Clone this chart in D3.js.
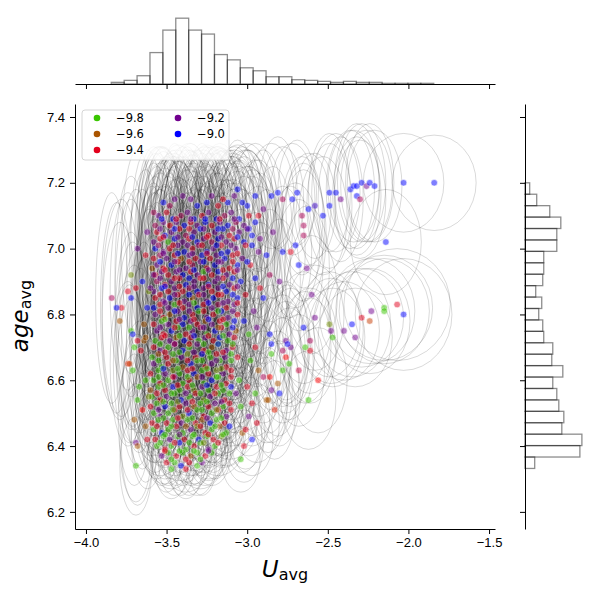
<!DOCTYPE html>
<html>
<head>
<meta charset="utf-8">
<script src="https://cdn.jsdelivr.net/npm/d3@7"></script>
<style>
  body { margin: 0; background: #fff; }
  svg { font-family: 'DejaVu Sans', sans-serif; }
</style>
</head>
<body>
<div id="chart"></div>
<script>
'use strict';

// hue ticks shown in the legend, axis ticks
var legendTicks = [ -9.8, -9.6, -9.4, -9.2, -9.0 ];
var xTicks = [ -4.0, -3.5, -3.0, -2.5, -2.0, -1.5 ];
var yTicks = [ 6.2, 6.4, 6.6, 6.8, 7.0, 7.2, 7.4 ];

// marginal histograms (25 bins each), counts per bin
var xBinRange = [ -3.843, -1.843 ];
var xCounts = [ 5, 11, 25, 95, 163, 199, 163, 151, 89, 73, 49, 40, 22, 22, 13, 11, 8, 5, 8, 5, 5, 2, 2, 2, 2 ];
var yBinRange = [ 6.332, 7.2 ];
var yCounts = [ 29, 164, 170, 110, 116, 101, 95, 83, 113, 80, 83, 56, 53, 41, 50, 32, 53, 56, 56, 95, 95, 107, 74, 35, 14 ];

// stars: [ U_avg, age_avg, hue, U error, age error ]
var upperClump = [
  [-3.55,7.10,-9.2,.09,.19],[-3.50,7.11,-9.4,.10,.17],[-3.46,7.09,-9.0,.08,.21],[-3.41,7.10,-9.3,.11,.18],[-3.37,7.11,-9.2,.09,.20],[-3.33,7.09,-9.0,.12,.17],[-3.28,7.10,-9.4,.10,.22],[-3.24,7.11,-9.2,.09,.18],[-3.19,7.09,-9.0,.11,.20],[-3.14,7.10,-9.3,.12,.17],[-3.10,7.11,-9.2,.10,.19],[-3.05,7.09,-9.0,.13,.18],[-2.99,7.10,-9.4,.12,.20],
  [-3.57,7.07,-9.3,.10,.22],[-3.52,7.08,-9.2,.09,.19],[-3.48,7.07,-9.4,.11,.20],[-3.44,7.08,-9.2,.08,.18],[-3.39,7.07,-9.0,.10,.21],[-3.35,7.08,-9.4,.09,.19],[-3.31,7.07,-9.2,.12,.20],[-3.26,7.08,-9.0,.10,.18],[-3.22,7.07,-9.4,.09,.22],[-3.17,7.08,-9.2,.11,.19],[-3.12,7.07,-9.0,.13,.20],[-3.07,7.08,-9.3,.12,.18],[-3.02,7.07,-9.2,.14,.21],[-2.95,7.08,-9.0,.13,.19],
  [-3.56,7.05,-9.4,.09,.20],[-3.51,7.04,-9.0,.10,.23],[-3.47,7.05,-9.2,.08,.19],[-3.42,7.06,-9.4,.11,.21],[-3.38,7.04,-9.3,.10,.20],[-3.33,7.05,-9.2,.09,.22],[-3.29,7.06,-9.0,.12,.19],[-3.24,7.04,-9.4,.10,.21],[-3.20,7.05,-9.2,.11,.20],[-3.15,7.06,-9.0,.09,.18],[-3.11,7.04,-9.4,.12,.22],[-3.05,7.05,-9.2,.13,.20],[-2.99,7.06,-9.0,.14,.19],
  [-3.58,7.02,-9.2,.10,.24],[-3.54,7.03,-9.4,.09,.21],[-3.49,7.02,-9.8,.10,.20],[-3.45,7.03,-9.0,.11,.22],[-3.40,7.02,-9.2,.09,.19],[-3.36,7.03,-9.4,.10,.23],[-3.31,7.02,-9.0,.12,.20],[-3.27,7.03,-9.2,.09,.21],[-3.22,7.02,-9.3,.11,.22],[-3.18,7.03,-9.0,.10,.20],[-3.13,7.02,-9.2,.12,.19],[-3.08,7.03,-9.4,.13,.22],[-3.02,7.02,-9.0,.15,.20],
  [-3.57,7.00,-9.0,.09,.22],[-3.52,6.99,-9.2,.10,.20],[-3.48,7.00,-9.4,.08,.23],[-3.43,7.01,-9.2,.10,.21],[-3.39,6.99,-9.0,.11,.20],[-3.34,7.00,-9.4,.09,.22],[-3.30,7.01,-9.3,.12,.19],[-3.25,6.99,-9.0,.10,.21],[-3.21,7.00,-9.2,.09,.23],[-3.16,7.01,-9.4,.11,.20],[-3.12,6.99,-9.0,.12,.22],[-3.07,7.00,-9.2,.14,.20],[-2.97,7.01,-9.0,.15,.21],
  [-3.58,6.97,-9.4,.10,.23],[-3.54,6.98,-9.3,.09,.20],[-3.50,6.97,-9.2,.10,.22],[-3.45,6.98,-9.4,.11,.21],[-3.41,6.97,-9.6,.09,.20],[-3.36,6.98,-9.2,.10,.23],[-3.32,6.97,-9.4,.12,.21],[-3.28,6.98,-9.0,.09,.20],[-3.23,6.97,-9.4,.11,.22],[-3.19,6.98,-9.2,.10,.21],[-3.14,6.97,-9.0,.12,.20],[-3.09,6.98,-9.4,.13,.22],[-3.03,6.97,-9.2,.14,.21],
  [-3.56,6.95,-9.2,.10,.24],[-3.52,6.94,-9.4,.09,.21],[-3.47,6.95,-9.0,.11,.22],[-3.43,6.96,-9.4,.10,.20],[-3.38,6.94,-9.2,.09,.23],[-3.34,6.95,-9.3,.12,.21],[-3.29,6.96,-9.2,.10,.22],[-3.25,6.94,-9.4,.11,.20],[-3.20,6.95,-9.0,.09,.23],[-3.16,6.96,-9.2,.10,.21],[-3.11,6.94,-9.4,.13,.22],[-3.06,6.95,-9.0,.12,.20],[-2.98,6.95,-9.4,.15,.22],
  [-3.57,6.92,-9.4,.10,.25],[-3.53,6.93,-9.2,.09,.22],[-3.49,6.92,-9.4,.11,.21],[-3.44,6.93,-9.2,.10,.23],[-3.40,6.92,-9.0,.09,.22],[-3.35,6.93,-9.4,.10,.20],[-3.31,6.92,-9.2,.12,.24],[-3.27,6.93,-9.8,.10,.21],[-3.22,6.92,-9.4,.09,.22],[-3.18,6.93,-9.0,.11,.23],[-3.13,6.92,-9.2,.12,.21],[-3.08,6.93,-9.4,.13,.22],
  [-3.56,6.90,-9.3,.10,.24],[-3.51,6.89,-9.4,.09,.22],[-3.47,6.90,-9.2,.11,.23],[-3.42,6.91,-9.4,.10,.21],[-3.38,6.89,-9.0,.09,.24],[-3.33,6.90,-9.2,.12,.22],[-3.29,6.91,-9.4,.10,.21],[-3.24,6.89,-9.0,.11,.23],[-3.20,6.90,-9.2,.09,.22],[-3.15,6.91,-9.4,.12,.24],[-3.11,6.89,-9.2,.10,.21],[-3.04,6.90,-9.0,.14,.22],
  [-3.58,6.87,-9.2,.10,.25],[-3.53,6.88,-9.0,.09,.22],[-3.49,6.87,-9.4,.11,.24],[-3.45,6.88,-9.2,.10,.21],[-3.40,6.87,-9.4,.09,.23],[-3.36,6.88,-9.3,.10,.22],[-3.31,6.87,-9.0,.12,.24],[-3.27,6.88,-9.2,.10,.21],[-3.22,6.87,-9.4,.11,.23],[-3.18,6.88,-9.2,.09,.22],[-3.13,6.87,-9.0,.12,.24],[-3.08,6.88,-9.4,.13,.21],
  [-3.57,6.85,-9.4,.10,.24],[-3.52,6.84,-9.2,.09,.23],[-3.48,6.85,-9.0,.10,.22],[-3.43,6.86,-9.4,.11,.24],[-3.39,6.84,-9.2,.09,.21],[-3.34,6.85,-9.6,.10,.23],[-3.30,6.86,-9.4,.12,.22],[-3.25,6.84,-9.2,.10,.24],[-3.21,6.85,-9.0,.11,.21],[-3.16,6.86,-9.4,.09,.23],[-3.12,6.84,-9.2,.12,.22],[-3.06,6.85,-9.0,.13,.24]
];

var middleBand = [
  [-3.58,6.82,-9.0,.10,.22],[-3.54,6.83,-9.4,.09,.20],[-3.49,6.82,-9.2,.10,.21],[-3.45,6.83,-9.8,.11,.20],[-3.40,6.82,-9.4,.09,.22],[-3.36,6.83,-9.2,.10,.19],[-3.31,6.82,-9.0,.12,.21],[-3.27,6.83,-9.4,.10,.20],[-3.22,6.82,-9.2,.09,.22],[-3.18,6.83,-9.3,.11,.20],[-3.13,6.82,-9.4,.12,.21],[-3.08,6.83,-9.2,.13,.20],
  [-3.57,6.80,-9.2,.10,.20],[-3.52,6.79,-9.4,.09,.19],[-3.48,6.80,-9.6,.10,.21],[-3.43,6.81,-9.2,.11,.18],[-3.39,6.79,-9.0,.09,.20],[-3.34,6.80,-9.4,.10,.19],[-3.30,6.81,-9.8,.12,.20],[-3.25,6.79,-9.2,.10,.18],[-3.21,6.80,-9.4,.09,.21],[-3.16,6.81,-9.0,.11,.19],[-3.12,6.79,-9.2,.12,.20],[-3.06,6.80,-9.4,.13,.18],
  [-3.58,6.77,-9.4,.10,.19],[-3.53,6.78,-9.8,.09,.18],[-3.49,6.77,-9.2,.11,.20],[-3.44,6.78,-9.4,.10,.17],[-3.40,6.77,-9.0,.09,.19],[-3.35,6.78,-9.2,.10,.18],[-3.31,6.77,-9.4,.12,.20],[-3.26,6.78,-9.6,.10,.17],[-3.22,6.77,-9.2,.09,.19],[-3.17,6.78,-9.4,.11,.18],[-3.13,6.77,-9.8,.12,.20],[-3.08,6.78,-9.0,.13,.17],
  [-3.56,6.75,-9.2,.09,.18],[-3.52,6.74,-9.4,.10,.17],[-3.47,6.75,-9.0,.08,.19],[-3.43,6.76,-9.8,.10,.16],[-3.38,6.74,-9.4,.11,.18],[-3.34,6.75,-9.2,.09,.17],[-3.29,6.76,-9.3,.10,.19],[-3.25,6.74,-9.8,.12,.16],[-3.20,6.75,-9.0,.10,.18],[-3.16,6.76,-9.4,.09,.17],[-3.11,6.74,-9.2,.12,.19],[-3.07,6.75,-9.6,.13,.16],
  [-3.57,6.72,-9.8,.10,.17],[-3.53,6.73,-9.4,.09,.16],[-3.48,6.72,-9.2,.10,.18],[-3.44,6.73,-9.6,.11,.15],[-3.39,6.72,-9.0,.09,.17],[-3.35,6.73,-9.4,.10,.16],[-3.30,6.72,-9.8,.12,.18],[-3.26,6.73,-9.2,.10,.15],[-3.21,6.72,-9.4,.09,.17],[-3.17,6.73,-9.0,.11,.16],[-3.12,6.72,-9.8,.12,.18],[-3.08,6.73,-9.4,.13,.15],
  [-3.58,6.70,-9.4,.09,.16],[-3.54,6.69,-9.2,.10,.15],[-3.49,6.70,-9.8,.08,.17],[-3.45,6.71,-9.4,.10,.14],[-3.40,6.69,-9.0,.11,.16],[-3.36,6.70,-9.8,.09,.15],[-3.31,6.71,-9.2,.10,.17],[-3.27,6.69,-9.4,.12,.14],[-3.22,6.70,-9.6,.10,.16],[-3.18,6.71,-9.8,.09,.15],[-3.13,6.69,-9.2,.12,.17],[-3.09,6.70,-9.4,.13,.14]
];

var lowerClump = [
  [-3.59,6.67,-9.8,.09,.15],[-3.55,6.68,-9.6,.10,.14],[-3.50,6.67,-9.4,.08,.16],[-3.46,6.68,-9.8,.10,.13],[-3.41,6.67,-9.2,.11,.15],[-3.37,6.68,-9.7,.09,.14],[-3.32,6.67,-9.4,.10,.16],[-3.28,6.68,-9.0,.12,.13],[-3.23,6.67,-9.8,.10,.15],[-3.19,6.68,-9.4,.09,.14],[-3.14,6.67,-9.2,.12,.16],[-3.10,6.68,-9.8,.13,.13],
  [-3.58,6.65,-9.2,.09,.14],[-3.53,6.64,-9.8,.10,.13],[-3.49,6.65,-9.4,.08,.15],[-3.44,6.66,-9.8,.10,.12],[-3.40,6.64,-9.6,.11,.14],[-3.35,6.65,-9.0,.09,.13],[-3.31,6.66,-9.8,.10,.15],[-3.26,6.64,-9.4,.12,.12],[-3.22,6.65,-9.2,.10,.14],[-3.17,6.66,-9.8,.09,.13],[-3.13,6.64,-9.4,.12,.15],
  [-3.60,6.62,-9.4,.09,.14],[-3.55,6.63,-9.8,.10,.12],[-3.51,6.62,-9.2,.08,.13],[-3.46,6.63,-9.7,.10,.14],[-3.42,6.62,-9.8,.11,.12],[-3.37,6.63,-9.4,.09,.13],[-3.33,6.62,-9.0,.10,.14],[-3.28,6.63,-9.8,.12,.12],[-3.24,6.62,-9.4,.10,.13],[-3.19,6.63,-9.7,.09,.14],[-3.15,6.62,-9.2,.12,.12],[-3.10,6.63,-9.4,.13,.13],
  [-3.58,6.60,-9.8,.09,.13],[-3.54,6.59,-9.4,.10,.12],[-3.49,6.60,-9.8,.08,.14],[-3.45,6.61,-9.2,.10,.11],[-3.40,6.59,-9.8,.11,.13],[-3.36,6.60,-9.4,.09,.12],[-3.31,6.61,-9.6,.10,.14],[-3.27,6.59,-9.8,.12,.11],[-3.22,6.60,-9.0,.10,.13],[-3.18,6.61,-9.8,.09,.12],[-3.13,6.59,-9.4,.12,.14],
  [-3.60,6.57,-9.6,.09,.12],[-3.55,6.58,-9.8,.10,.11],[-3.51,6.57,-9.4,.08,.13],[-3.46,6.58,-9.0,.10,.12],[-3.42,6.57,-9.8,.11,.11],[-3.37,6.58,-9.4,.09,.13],[-3.33,6.57,-9.7,.10,.12],[-3.28,6.58,-9.2,.12,.11],[-3.24,6.57,-9.8,.10,.13],[-3.19,6.58,-9.4,.09,.12],[-3.15,6.57,-9.8,.12,.11],[-3.10,6.58,-9.0,.13,.13],
  [-3.59,6.55,-9.8,.09,.12],[-3.54,6.54,-9.4,.10,.11],[-3.50,6.55,-9.2,.08,.12],[-3.45,6.56,-9.8,.10,.10],[-3.41,6.54,-9.0,.11,.12],[-3.36,6.55,-9.8,.09,.11],[-3.32,6.56,-9.4,.10,.12],[-3.27,6.54,-9.7,.12,.10],[-3.23,6.55,-9.2,.10,.12],[-3.18,6.56,-9.8,.09,.11],[-3.14,6.54,-9.4,.12,.12],
  [-3.60,6.52,-9.4,.09,.11],[-3.56,6.53,-9.8,.10,.10],[-3.51,6.52,-9.0,.08,.12],[-3.47,6.53,-9.8,.10,.11],[-3.42,6.52,-9.4,.11,.10],[-3.38,6.53,-9.2,.09,.12],[-3.33,6.52,-9.6,.10,.11],[-3.29,6.53,-9.8,.12,.10],[-3.24,6.52,-9.4,.10,.12],[-3.20,6.53,-9.2,.09,.11],[-3.15,6.52,-9.8,.12,.10],[-3.11,6.53,-9.4,.13,.12],
  [-3.58,6.50,-9.8,.09,.11],[-3.54,6.49,-9.2,.10,.10],[-3.49,6.50,-9.8,.08,.11],[-3.45,6.51,-9.4,.10,.10],[-3.40,6.49,-9.7,.11,.11],[-3.36,6.50,-9.0,.09,.10],[-3.31,6.51,-9.8,.10,.11],[-3.27,6.49,-9.4,.12,.10],[-3.22,6.50,-9.8,.10,.11],[-3.18,6.51,-9.4,.09,.10],[-3.13,6.49,-9.2,.12,.11],
  [-3.59,6.47,-9.4,.09,.10],[-3.55,6.48,-9.8,.10,.11],[-3.50,6.47,-9.4,.08,.10],[-3.46,6.48,-9.8,.10,.11],[-3.41,6.47,-9.2,.11,.10],[-3.37,6.48,-9.8,.09,.11],[-3.32,6.47,-9.4,.10,.10],[-3.28,6.48,-9.6,.12,.11],[-3.23,6.47,-9.0,.10,.10],[-3.19,6.48,-9.8,.09,.11],[-3.14,6.47,-9.4,.12,.10],
  [-3.58,6.45,-9.8,.09,.10],[-3.53,6.44,-9.0,.10,.09],[-3.49,6.45,-9.8,.08,.10],[-3.44,6.46,-9.4,.10,.09],[-3.40,6.44,-9.8,.11,.10],[-3.35,6.45,-9.2,.09,.09],[-3.31,6.46,-9.7,.10,.10],[-3.26,6.44,-9.4,.12,.09],[-3.22,6.45,-9.8,.10,.10],[-3.17,6.46,-9.6,.09,.09],[-3.13,6.44,-9.8,.12,.10],
  [-3.57,6.42,-9.4,.09,.10],[-3.52,6.43,-9.8,.10,.09],[-3.48,6.42,-9.2,.08,.10],[-3.43,6.43,-9.8,.10,.09],[-3.39,6.42,-9.4,.11,.10],[-3.34,6.43,-9.8,.09,.09],[-3.30,6.42,-9.0,.10,.10],[-3.25,6.43,-9.8,.12,.09],[-3.21,6.42,-9.4,.10,.10],[-3.16,6.43,-9.7,.09,.09],
  [-3.56,6.40,-9.8,.09,.10],[-3.51,6.39,-9.4,.10,.09],[-3.47,6.40,-9.8,.08,.10],[-3.42,6.41,-9.0,.10,.09],[-3.38,6.39,-9.8,.11,.10],[-3.33,6.40,-9.4,.09,.09],[-3.29,6.41,-9.8,.10,.10],[-3.24,6.39,-9.2,.12,.09],[-3.20,6.40,-9.8,.10,.10],
  [-3.53,6.37,-9.2,.09,.09],[-3.49,6.38,-9.8,.10,.10],[-3.44,6.37,-9.4,.08,.09],[-3.40,6.38,-9.8,.10,.10],[-3.35,6.37,-9.6,.11,.09],[-3.31,6.38,-9.8,.09,.10],[-3.26,6.37,-9.4,.10,.09],[-3.22,6.38,-9.8,.12,.10],
  [-3.50,6.35,-9.4,.09,.09],[-3.45,6.35,-9.8,.10,.10],[-3.41,6.34,-9.0,.08,.09],[-3.36,6.35,-9.4,.10,.10],[-3.31,6.34,-9.8,.11,.09],[-3.28,6.35,-9.2,.09,.10]
];

// second, offset layer of the dense core
var coreExtra = [
  [-3.53,7.09,-9.0,.14,.22],[-3.44,7.09,-9.4,.16,.21],[-3.35,7.09,-9.2,.13,.23],[-3.26,7.09,-9.0,.17,.22],[-3.17,7.09,-9.4,.15,.23],[-3.08,7.09,-9.2,.18,.21],
  [-3.54,7.06,-9.2,.15,.25],[-3.45,7.06,-9.0,.13,.23],[-3.36,7.06,-9.4,.17,.26],[-3.27,7.06,-9.2,.14,.24],[-3.18,7.06,-9.0,.16,.25],[-3.09,7.06,-9.3,.19,.23],[-3.00,7.06,-9.2,.18,.26],
  [-3.52,7.035,-9.4,.14,.27],[-3.43,7.035,-9.2,.16,.28],[-3.34,7.035,-9.0,.13,.26],[-3.25,7.035,-9.4,.17,.28],[-3.16,7.035,-9.2,.15,.27],[-3.06,7.035,-9.0,.19,.28],
  [-3.55,7.01,-9.3,.15,.30],[-3.46,7.01,-9.4,.14,.27],[-3.37,7.01,-9.2,.17,.29],[-3.28,7.01,-9.4,.13,.28],[-3.19,7.01,-9.0,.16,.30],[-3.10,7.01,-9.2,.18,.27],[-3.01,7.01,-9.4,.20,.29],
  [-3.52,6.985,-9.2,.14,.31],[-3.43,6.985,-9.0,.17,.28],[-3.34,6.985,-9.2,.15,.30],[-3.25,6.985,-9.4,.13,.29],[-3.16,6.985,-9.0,.18,.31],[-3.06,6.985,-9.4,.19,.28],
  [-3.54,6.96,-9.0,.15,.30],[-3.45,6.96,-9.2,.14,.32],[-3.36,6.96,-9.4,.17,.29],[-3.27,6.96,-9.0,.13,.31],[-3.18,6.96,-9.2,.16,.30],[-3.09,6.96,-9.4,.18,.32],[-3.00,6.96,-9.0,.20,.29],
  [-3.51,6.935,-9.4,.14,.31],[-3.42,6.935,-9.2,.16,.33],[-3.33,6.935,-9.0,.15,.30],[-3.24,6.935,-9.2,.17,.32],[-3.15,6.935,-9.4,.14,.31],[-3.06,6.935,-9.2,.19,.30],
  [-3.54,6.91,-9.2,.15,.32],[-3.45,6.91,-9.4,.13,.30],[-3.36,6.91,-9.0,.17,.33],[-3.27,6.91,-9.4,.15,.31],[-3.18,6.91,-9.2,.16,.32],[-3.09,6.91,-9.0,.18,.30],
  [-3.51,6.885,-9.0,.14,.31],[-3.42,6.885,-9.4,.16,.33],[-3.33,6.885,-9.2,.15,.30],[-3.24,6.885,-9.4,.13,.32],[-3.15,6.885,-9.0,.17,.31],[-3.06,6.885,-9.2,.19,.30],
  [-3.54,6.86,-9.4,.15,.32],[-3.45,6.86,-9.2,.14,.30],[-3.36,6.86,-9.0,.16,.31],[-3.27,6.86,-9.2,.15,.33],[-3.18,6.86,-9.4,.17,.30],[-3.09,6.86,-9.0,.18,.32],
  [-3.51,6.835,-9.2,.14,.28],[-3.42,6.835,-9.4,.16,.26],[-3.33,6.835,-9.8,.15,.29],[-3.24,6.835,-9.0,.13,.27],[-3.15,6.835,-9.2,.17,.28],[-3.06,6.835,-9.4,.19,.26],
  [-3.54,6.81,-9.4,.15,.26],[-3.45,6.81,-9.0,.14,.28],[-3.36,6.81,-9.2,.16,.25],[-3.27,6.81,-9.4,.15,.27],[-3.18,6.81,-9.8,.17,.26],[-3.09,6.81,-9.2,.18,.25],
  [-3.51,6.785,-9.8,.14,.25],[-3.42,6.785,-9.2,.16,.23],[-3.33,6.785,-9.4,.15,.26],[-3.24,6.785,-9.0,.13,.24],[-3.15,6.785,-9.4,.17,.25],
  [-3.54,6.76,-9.2,.15,.23],[-3.45,6.76,-9.4,.14,.22],[-3.36,6.76,-9.8,.16,.24],[-3.27,6.76,-9.2,.15,.21],[-3.18,6.76,-9.6,.17,.23],[-3.09,6.76,-9.0,.18,.22],
  [-3.51,6.735,-9.4,.14,.21],[-3.42,6.735,-9.8,.16,.20],[-3.33,6.735,-9.0,.15,.22],[-3.24,6.735,-9.4,.13,.20],[-3.15,6.735,-9.8,.17,.21],
  [-3.54,6.71,-9.8,.15,.20],[-3.45,6.71,-9.2,.14,.19],[-3.36,6.71,-9.4,.16,.20],[-3.27,6.71,-9.8,.15,.18],[-3.18,6.71,-9.0,.17,.19],[-3.09,6.71,-9.8,.18,.18],
  [-3.51,6.685,-9.4,.13,.18],[-3.42,6.685,-9.8,.15,.17],[-3.33,6.685,-9.2,.14,.18],[-3.24,6.685,-9.8,.12,.16],[-3.15,6.685,-9.4,.16,.17],
  [-3.55,6.66,-9.8,.14,.17],[-3.46,6.66,-9.6,.13,.16],[-3.37,6.66,-9.4,.15,.17],[-3.28,6.66,-9.8,.14,.15],[-3.19,6.66,-9.2,.16,.16],[-3.10,6.66,-9.8,.17,.15],
  [-3.52,6.635,-9.0,.13,.16],[-3.43,6.635,-9.8,.15,.15],[-3.34,6.635,-9.4,.14,.16],[-3.25,6.635,-9.8,.12,.14],[-3.16,6.635,-9.7,.16,.15],
  [-3.55,6.61,-9.8,.14,.15],[-3.46,6.61,-9.4,.13,.14],[-3.37,6.61,-9.8,.15,.15],[-3.28,6.61,-9.2,.14,.13],[-3.19,6.61,-9.8,.16,.14],[-3.10,6.61,-9.4,.17,.13],
  [-3.52,6.585,-9.8,.13,.14],[-3.43,6.585,-9.4,.15,.13],[-3.34,6.585,-9.8,.14,.14],[-3.25,6.585,-9.0,.12,.12],[-3.16,6.585,-9.8,.16,.13],
  [-3.56,6.56,-9.4,.14,.13],[-3.47,6.56,-9.8,.13,.12],[-3.38,6.56,-9.2,.15,.13],[-3.29,6.56,-9.8,.14,.12],[-3.20,6.56,-9.4,.16,.13],[-3.11,6.56,-9.8,.17,.12],
  [-3.52,6.535,-9.8,.13,.12],[-3.43,6.535,-9.7,.15,.12],[-3.34,6.535,-9.4,.14,.13],[-3.25,6.535,-9.8,.12,.11],[-3.16,6.535,-9.2,.16,.12],
  [-3.55,6.51,-9.2,.14,.12],[-3.46,6.51,-9.8,.13,.11],[-3.37,6.51,-9.4,.15,.12],[-3.28,6.51,-9.8,.14,.11],[-3.19,6.51,-9.7,.16,.12],[-3.10,6.51,-9.4,.17,.11],
  [-3.52,6.485,-9.8,.13,.11],[-3.43,6.485,-9.4,.15,.11],[-3.34,6.485,-9.8,.14,.12],[-3.25,6.485,-9.2,.12,.10],[-3.16,6.485,-9.8,.16,.11],
  [-3.56,6.46,-9.4,.14,.11],[-3.47,6.46,-9.8,.13,.10],[-3.38,6.46,-9.6,.15,.11],[-3.29,6.46,-9.4,.14,.10],[-3.20,6.46,-9.8,.16,.11],[-3.11,6.46,-9.0,.17,.10],
  [-3.51,6.435,-9.8,.13,.10],[-3.42,6.435,-9.2,.15,.10],[-3.33,6.435,-9.8,.14,.11],[-3.24,6.435,-9.4,.12,.10],[-3.15,6.435,-9.8,.16,.10],
  [-3.54,6.41,-9.8,.14,.10],[-3.45,6.41,-9.4,.13,.10],[-3.36,6.41,-9.8,.15,.10],[-3.27,6.41,-9.7,.14,.09],[-3.18,6.41,-9.4,.16,.10],
  [-3.51,6.385,-9.4,.13,.10],[-3.42,6.385,-9.8,.15,.09],[-3.33,6.385,-9.8,.14,.10],[-3.24,6.385,-9.2,.12,.09],
  [-3.47,6.36,-9.8,.13,.09],[-3.38,6.36,-9.4,.15,.10],[-3.29,6.36,-9.8,.14,.09]
];

// ragged edges of the core
var edgeStars = [
  [-3.52,7.14,-9.0,.10,.17],[-3.48,7.13,-9.3,.09,.16],[-3.40,7.16,-9.2,.10,.15],[-3.31,7.13,-9.0,.11,.17],[-3.22,7.16,-9.2,.10,.15],[-3.18,7.13,-9.4,.12,.17],[-3.12,7.14,-9.0,.11,.16],[-3.08,7.16,-9.2,.12,.15],[-3.00,7.13,-9.0,.13,.17],[-2.93,7.10,-9.4,.13,.17],
  [-3.62,7.05,-9.2,.10,.25],[-3.63,6.98,-9.4,.10,.26],[-3.62,6.82,-9.0,.10,.24],[-3.63,6.60,-9.8,.10,.20],[-3.62,6.42,-9.4,.10,.15],[-3.61,6.55,-9.7,.10,.17],
  [-2.93,6.99,-9.2,.14,.20],[-2.95,6.91,-9.0,.14,.20],[-2.92,6.88,-9.4,.14,.20],[-2.97,7.04,-9.0,.14,.20],[-2.94,6.76,-9.2,.14,.18],[-3.01,6.86,-9.4,.13,.20],
  [-3.38,6.33,-9.4,.10,.09],[-3.47,6.33,-9.8,.10,.09]
];

var coreFringe = [
  [-3.03,6.44,-9.6,.12,.12],[-3.01,6.45,-9.4,.12,.12],[-2.97,6.53,-9.4,.13,.13],[-2.90,6.61,-9.3,.13,.14],[-2.88,6.54,-9.6,.13,.13],[-3.05,6.60,-9.8,.12,.13],[-3.06,6.67,-9.4,.12,.14],[-3.04,6.52,-9.8,.12,.12],[-3.07,6.56,-9.2,.12,.12],
  [-3.02,6.78,-9.0,.13,.16],[-2.99,6.74,-9.8,.13,.15],[-2.96,6.81,-9.2,.14,.17],[-2.95,6.70,-9.4,.14,.15],[-2.98,6.66,-9.8,.13,.14],[-2.93,6.63,-9.6,.14,.14],[-3.00,6.58,-9.4,.13,.13],[-2.95,6.56,-9.8,.14,.13],[-2.99,6.49,-9.2,.13,.12],[-2.94,6.47,-9.4,.14,.12],[-3.02,6.40,-9.4,.12,.11],[-2.97,6.42,-9.0,.13,.11],[-3.04,6.36,-9.8,.12,.10]
];

var leftStars = [
  [-3.68,7.00,-9.2,.10,.30],[-3.72,6.92,-9.7,.10,.30],[-3.65,6.90,-9.0,.10,.28],[-3.69,6.88,-9.4,.10,.30],[-3.59,6.94,-9.6,.09,.25],[-3.58,6.92,-9.2,.09,.25],[-3.84,6.85,-9.3,.10,.32],[-3.74,6.87,-9.4,.11,.30],[-3.72,6.85,-9.0,.10,.30],[-3.78,6.82,-9.4,.12,.33],[-3.81,6.82,-9.0,.10,.32],[-3.79,6.78,-9.6,.11,.30],[-3.72,6.75,-9.8,.10,.30],[-3.71,6.74,-9.0,.10,.28],[-3.68,6.72,-9.4,.10,.28],[-3.70,6.70,-9.8,.10,.25],[-3.66,6.69,-9.4,.09,.25],[-3.64,6.72,-9.6,.09,.25],[-3.74,6.65,-9.5,.11,.25],[-3.73,6.65,-9.55,.10,.24],[-3.71,6.63,-9.8,.10,.22],[-3.64,6.77,-9.6,.09,.25],[-3.63,6.73,-9.6,.09,.25],[-3.61,6.87,-9.7,.09,.25],[-3.60,6.88,-9.2,.09,.25],
  [-3.67,6.58,-9.8,.10,.20],[-3.68,6.54,-9.8,.10,.20],[-3.70,6.48,-9.6,.10,.20],[-3.69,6.41,-9.2,.10,.18],[-3.68,6.40,-9.6,.10,.18],[-3.69,6.34,-9.8,.10,.15],[-3.65,6.51,-9.45,.09,.18],[-3.63,6.46,-9.6,.09,.17]
];

var rightStars = [
  [-3.58,7.11,-9.3,.10,.20],[-3.45,7.15,-9.2,.08,.17],[-3.35,7.15,-9.2,.09,.15],[-3.25,7.14,-9.0,.08,.17],[-3.15,7.15,-9.4,.09,.15],[-3.06,7.18,-9.0,.10,.15],[-3.03,7.14,-9.0,.12,.17],[-2.95,7.16,-9.0,.13,.16],[-2.90,7.12,-9.2,.12,.18],[-2.85,7.16,-9.0,.14,.16],[-2.81,7.17,-9.0,.12,.17],[-2.78,7.15,-9.3,.13,.16],[-2.72,7.15,-9.0,.14,.17],[-2.69,7.17,-9.0,.12,.16],[-2.66,7.10,-9.3,.13,.18],[-2.62,7.12,-9.0,.14,.17],[-2.58,7.13,-9.1,.13,.16],[-2.53,7.10,-9.0,.15,.18],[-2.49,7.13,-9.0,.14,.19],[-2.49,7.17,-9.0,.13,.18],[-2.45,7.17,-9.0,.15,.18],[-2.42,7.15,-9.2,.14,.19],[-2.36,7.18,-9.0,.15,.18],[-2.34,7.19,-9.0,.16,.17],[-2.32,7.19,-9.0,.14,.19],[-2.32,7.16,-9.0,.15,.18],[-2.30,7.15,-9.3,.16,.18],[-2.29,7.20,-9.0,.15,.18],[-2.26,7.19,-9.2,.16,.17],[-2.24,7.20,-9.0,.15,.18],[-2.21,7.19,-9.0,.17,.17],[-2.14,7.02,-9.0,.22,.16],[-2.03,7.20,-9.0,.25,.15],[-1.84,7.20,-9.0,.26,.145],
  [-2.78,6.99,-9.0,.14,.20],[-2.73,6.99,-9.4,.13,.20],[-2.70,7.01,-9.0,.15,.19],[-2.65,7.04,-9.3,.14,.20],[-2.65,7.07,-9.3,.13,.19],[-2.68,6.95,-9.0,.15,.20],[-2.63,6.94,-9.2,.14,.19],[-2.60,6.86,-9.2,.16,.18],[-2.84,7.05,-9.2,.12,.20],[-2.88,6.98,-9.0,.12,.20],[-2.86,6.92,-9.3,.13,.20],[-2.92,7.03,-9.2,.12,.20],[-2.80,6.90,-9.2,.13,.19],[-2.90,6.85,-9.0,.12,.20],
  [-2.07,6.83,-9.4,.33,.17],[-2.15,6.82,-9.8,.30,.16],[-2.15,6.81,-9.8,.28,.16],[-2.03,6.80,-9.0,.30,.17],[-2.23,6.81,-9.2,.27,.16],[-2.29,6.79,-9.4,.26,.15],[-2.24,6.78,-9.55,.25,.16],[-2.35,6.77,-9.0,.24,.16],[-2.40,6.75,-9.2,.22,.15],[-2.33,6.73,-9.2,.23,.15],[-2.47,6.73,-9.8,.20,.15],[-2.48,6.75,-9.2,.20,.16],[-2.49,6.77,-9.7,.19,.16],[-2.58,6.79,-9.2,.18,.16],
  [-2.65,6.76,-9.0,.17,.17],[-2.61,6.72,-9.3,.17,.16],[-2.61,6.69,-9.4,.16,.16],[-2.64,6.70,-9.8,.16,.17],[-2.56,6.60,-9.45,.18,.16],[-2.62,6.54,-9.8,.17,.15],[-2.68,6.63,-9.35,.16,.17],[-2.73,6.70,-9.2,.15,.18],[-2.78,6.69,-9.3,.14,.17],[-2.76,6.67,-9.45,.14,.17],[-2.74,6.65,-9.8,.15,.17],[-2.78,6.63,-9.8,.14,.16],[-2.80,6.56,-9.0,.13,.16],[-2.83,6.51,-9.5,.13,.15],[-2.81,6.59,-9.6,.13,.16],[-2.85,6.57,-9.2,.13,.16],[-2.86,6.61,-9.45,.12,.17],[-2.87,6.54,-9.6,.12,.16],[-2.86,6.74,-9.0,.13,.18],[-2.85,6.71,-9.0,.13,.18],[-2.85,6.68,-9.8,.13,.17],[-2.76,6.72,-9.2,.14,.18],[-2.75,6.71,-9.0,.14,.18]
];

var stars = [].concat( upperClump, middleBand, lowerClump, coreExtra, edgeStars, coreFringe, leftStars, rightStars );

var svg = d3.select( '#chart' )
  .append( 'svg' )
    .attr( 'width', 600 )
    .attr( 'height', 600 );

// joint axes
var x = d3.scaleLinear()
    .domain( [ -4.068, -1.463 ] )
    .range( [ 75, 495 ] );

var y = d3.scaleLinear()
    .domain( [ 6.148, 7.4395 ] )
    .range( [ 529, 104 ] );

// marginal count axes
var countTop = d3.scaleLinear()
    .domain( [ 0, 254 ] )
    .range( [ 84, 0 ] );

var countRight = d3.scaleLinear()
    .domain( [ 0, 254 ] )
    .range( [ 525, 610 ] );

var hue = d3.scaleLinear()
    .domain( [ -9.9, -9.45, -9.0 ] )
    .range( [ '#00ff00', '#ff0000', '#0000ff' ] );

function binEdges( range, n ) {
  var w = ( range[1] - range[0] ) / n;
  return d3.range( n + 1 ).map( function( i ) { return range[0] + i * w; } );
}

function styleTicks( g ) {
  g.selectAll( 'text' ).style( 'font-size', '13px' ).style( 'fill', '#000' );
}

// error ellipses
svg.append( 'g' )
  .selectAll( 'ellipse' )
  .data( stars )
  .enter()
  .append( 'ellipse' )
    .attr( 'cx', function( d ) { return x( d[0] ); } )
    .attr( 'cy', function( d ) { return y( d[1] ); } )
    .attr( 'rx', function( d ) { return x( d[0] + d[3] ) - x( d[0] ); } )
    .attr( 'ry', function( d ) { return y( d[1] ) - y( d[1] + d[4] ); } )
    .style( 'fill', 'none' )
    .style( 'stroke', '#000' )
    .style( 'stroke-opacity', 0.23 )
    .style( 'stroke-width', 0.65 );

// stars
svg.append( 'g' )
  .selectAll( 'circle' )
  .data( stars )
  .enter()
  .append( 'circle' )
    .attr( 'cx', function( d ) { return x( d[0] ); } )
    .attr( 'cy', function( d ) { return y( d[1] ); } )
    .attr( 'r', 3.3 )
    .style( 'fill', function( d ) { return hue( d[2] ); } )
    .style( 'stroke', '#fff' )
    .style( 'stroke-width', 0.6 )
    .style( 'opacity', 0.5 );

// main axes
svg.append( 'g' )
  .attr( 'transform', 'translate(0,529)' )
  .call( d3.axisBottom( x ).tickValues( xTicks ).tickFormat( d3.format( '.1f' ) )
    .tickSize( 5 ).tickSizeOuter( 0 ).tickPadding( 4 ) )
  .call( styleTicks );

svg.append( 'g' )
  .attr( 'transform', 'translate(75,0)' )
  .call( d3.axisLeft( y ).tickValues( yTicks ).tickFormat( d3.format( '.1f' ) )
    .tickSize( 5 ).tickSizeOuter( 0 ).tickPadding( 5 ) )
  .call( styleTicks );

// top marginal histogram
var xEdges = binEdges( xBinRange, xCounts.length );
svg.append( 'g' )
  .selectAll( 'rect' )
  .data( xCounts )
  .enter()
  .append( 'rect' )
    .attr( 'x', function( d, i ) { return x( xEdges[i] ); } )
    .attr( 'width', function( d, i ) { return x( xEdges[i + 1] ) - x( xEdges[i] ); } )
    .attr( 'y', function( d ) { return countTop( d ); } )
    .attr( 'height', function( d ) { return countTop( 0 ) - countTop( d ); } )
    .style( 'fill', 'none' )
    .style( 'stroke', '#000' )
    .style( 'stroke-opacity', 0.45 )
    .style( 'stroke-width', 1.3 );

svg.append( 'g' )
  .attr( 'transform', 'translate(0,84)' )
  .call( d3.axisBottom( x ).tickValues( xTicks ).tickFormat( '' ).tickSize( 5 ).tickSizeOuter( 0 ) );

// right marginal histogram
var yEdges = binEdges( yBinRange, yCounts.length );
svg.append( 'g' )
  .selectAll( 'rect' )
  .data( yCounts )
  .enter()
  .append( 'rect' )
    .attr( 'x', countRight( 0 ) )
    .attr( 'width', function( d ) { return countRight( d ) - countRight( 0 ); } )
    .attr( 'y', function( d, i ) { return y( yEdges[i + 1] ); } )
    .attr( 'height', function( d, i ) { return y( yEdges[i] ) - y( yEdges[i + 1] ); } )
    .style( 'fill', 'none' )
    .style( 'stroke', '#000' )
    .style( 'stroke-opacity', 0.45 )
    .style( 'stroke-width', 1.3 );

svg.append( 'g' )
  .attr( 'transform', 'translate(525,0)' )
  .call( d3.axisLeft( y ).tickValues( yTicks ).tickFormat( '' ).tickSize( 5 ).tickSizeOuter( 0 ) );

// axis labels
var xLabel = svg.append( 'text' )
  .attr( 'x', 285 )
  .attr( 'y', 577 )
  .attr( 'text-anchor', 'middle' )
  .style( 'font-size', '23px' );
xLabel.append( 'tspan' ).style( 'font-style', 'italic' ).text( 'U' );
xLabel.append( 'tspan' ).attr( 'dy', 3 ).style( 'font-size', '16px' ).text( 'avg' );

var yLabel = svg.append( 'text' )
  .attr( 'transform', 'translate(28,316) rotate(-90)' )
  .attr( 'text-anchor', 'middle' )
  .style( 'font-size', '23px' );
yLabel.append( 'tspan' ).style( 'font-style', 'italic' ).text( 'age' );
yLabel.append( 'tspan' ).attr( 'dy', 3 ).style( 'font-size', '16px' ).text( 'avg' );

// legend
var legend = svg.append( 'g' );
legend.append( 'rect' )
  .attr( 'x', 82 )
  .attr( 'y', 110 )
  .attr( 'width', 147 )
  .attr( 'height', 50 )
  .attr( 'rx', 3 )
  .style( 'fill', '#fff' )
  .style( 'fill-opacity', 0.8 )
  .style( 'stroke', '#ccc' )
  .style( 'stroke-width', 0.8 );

var entries = legend.selectAll( 'g.entry' )
  .data( legendTicks )
  .enter()
  .append( 'g' )
    .attr( 'class', 'entry' )
    .attr( 'transform', function( d, i ) {
      return 'translate(' + ( 97 + Math.floor( i / 3 ) * 81 ) + ',' + ( 118 + ( i % 3 ) * 16 ) + ')';
    } );

entries.append( 'circle' )
  .attr( 'r', 3.3 )
  .style( 'fill', function( d ) { return hue( d ); } );

entries.append( 'text' )
  .attr( 'x', 19 )
  .attr( 'dy', '0.35em' )
  .style( 'font-size', '11.5px' )
  .text( function( d ) { return d3.format( '.1f' )( d ); } );
</script>
</body>
</html>
